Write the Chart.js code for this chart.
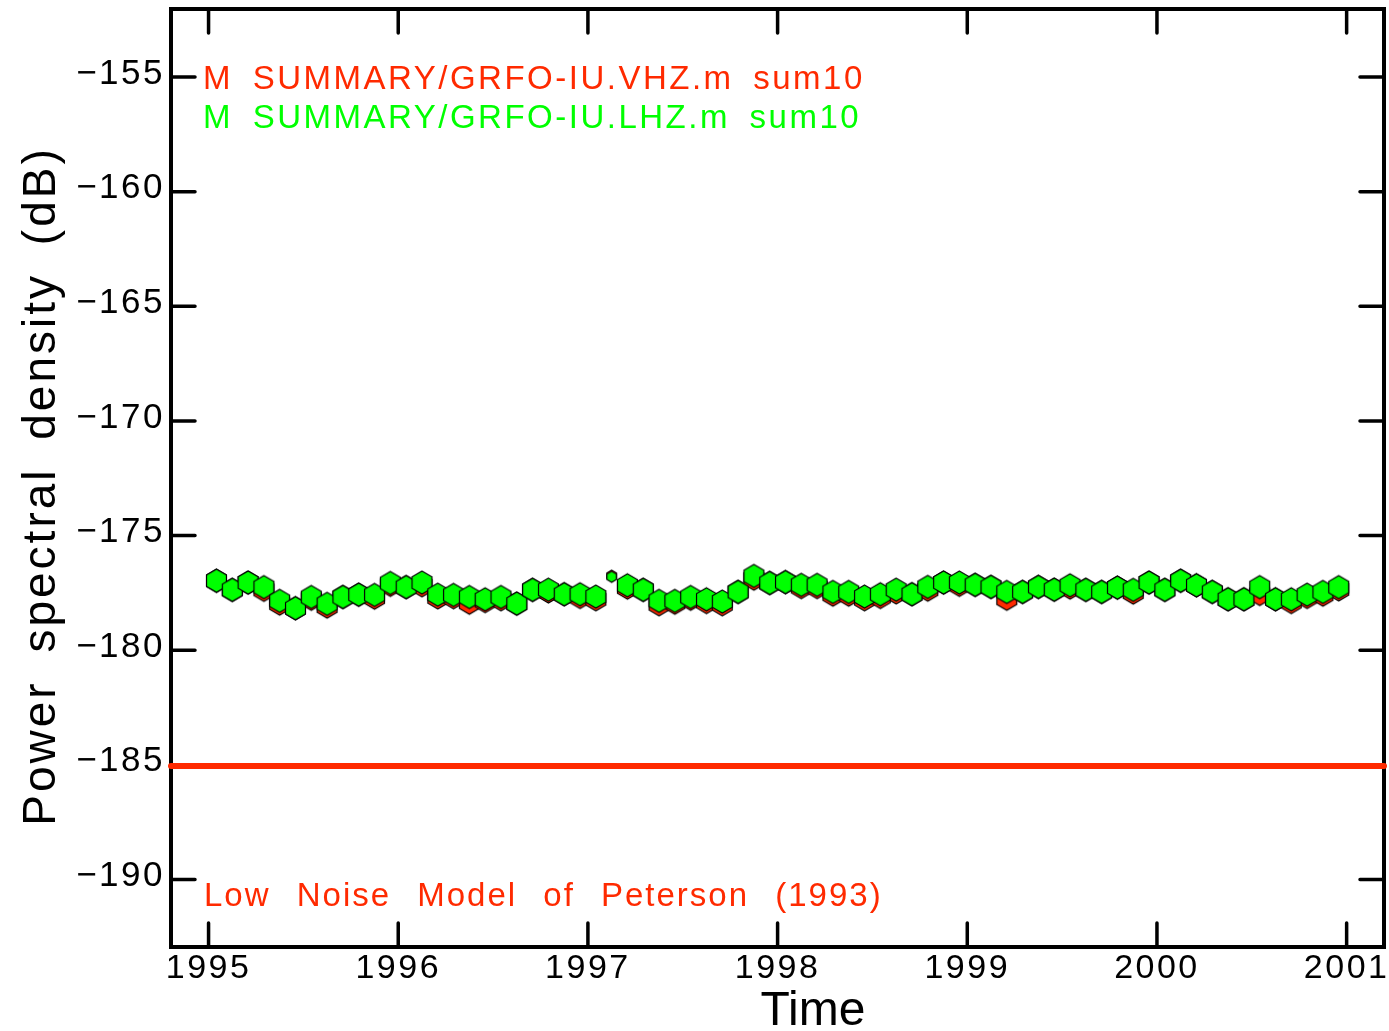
<!DOCTYPE html>
<html><head><meta charset="utf-8">
<script src="https://cdn.jsdelivr.net/npm/chart.js@4"></script>
<style>html,body{margin:0;padding:0;background:#fff}canvas{display:block}</style>
</head><body>
<canvas id="c" width="1389" height="1031"></canvas>
<script>
// ---- data ----
const months = [
 '1995-01','1995-02','1995-03','1995-04','1995-05','1995-06','1995-07','1995-08','1995-09','1995-10','1995-11','1995-12',
 '1996-01','1996-02','1996-03','1996-04','1996-05','1996-06','1996-07','1996-08','1996-09','1996-10','1996-11','1996-12',
 '1997-01','1997-02','1997-03','1997-04','1997-05','1997-06','1997-07','1997-08','1997-09','1997-10','1997-11','1997-12',
 '1998-01','1998-02','1998-03','1998-04','1998-05','1998-06','1998-07','1998-08','1998-09','1998-10','1998-11','1998-12',
 '1999-01','1999-02','1999-03','1999-04','1999-05','1999-06','1999-07','1999-08','1999-09','1999-10','1999-11','1999-12',
 '2000-01','2000-02','2000-03','2000-04','2000-05','2000-06','2000-07','2000-08','2000-09','2000-10','2000-11','2000-12'
];
const greenLHZ = [
 -176.97,-177.37,-177.05,-177.25,-177.85,-178.17,-177.68,-177.98,-177.68,-177.58,-177.59,-177.07,
 -177.25,-177.05,-177.58,-177.59,-177.68,-177.78,-177.68,-177.97,-177.37,-177.36,-177.56,-177.56,
 -177.66,-176.80,-177.17,-177.37,-177.85,-177.85,-177.68,-177.78,-177.88,-177.46,-176.76,-177.07,
 -177.03,-177.15,-177.15,-177.46,-177.46,-177.66,-177.56,-177.36,-177.56,-177.24,-177.05,-177.05,
 -177.15,-177.24,-177.46,-177.46,-177.24,-177.36,-177.17,-177.37,-177.46,-177.27,-177.37,-177.05,
 -177.37,-176.97,-177.17,-177.46,-177.78,-177.78,-177.25,-177.78,-177.78,-177.58,-177.46,-177.25
];
const redVHZ = [
 -176.97,-177.37,-177.05,-177.37,-177.97,-178.17,-177.76,-178.10,-177.68,-177.58,-177.71,-177.15,
 -177.25,-177.17,-177.70,-177.69,-177.93,-177.86,-177.78,-177.97,-177.37,-177.44,-177.56,-177.68,
 -177.78,-176.75,-177.27,-177.37,-178.00,-177.93,-177.76,-177.90,-178.00,-177.46,-176.88,-177.07,
 -177.03,-177.25,-177.25,-177.58,-177.58,-177.78,-177.68,-177.48,-177.56,-177.36,-177.05,-177.15,
 -177.15,-177.24,-177.76,-177.46,-177.24,-177.36,-177.27,-177.37,-177.46,-177.27,-177.49,-177.05,
 -177.37,-176.97,-177.17,-177.46,-177.78,-177.78,-177.55,-177.78,-177.90,-177.68,-177.58,-177.35
];
const partialMonths = ['1997-02'];
const nlnmLevel = [-185.05, -185.05];
const xTickYears = [1995, 1996, 1997, 1998, 1999, 2000, 2001];
const yTickValues = [-190, -185, -180, -175, -170, -165, -160, -155];
const legendLabels = ['M SUMMARY/GRFO-IU.VHZ.m sum10', 'M SUMMARY/GRFO-IU.LHZ.m sum10'];
const modelLabel = 'Low Noise Model of Peterson (1993)';
const xTitle = 'Time';
const yTitle = 'Power spectral density (dB)';

// ---- axis bounds ----
const X_MIN = 1994.802, X_MAX = 2001.197;
const Y_MIN = -192.95, Y_MAX = -152.03;

const RED = '#ff2a00', GREEN = '#00ff00', FONT = '"Liberation Sans", Arial, sans-serif';

function decYear(m) { const p = m.split('-').map(Number); return p[0] + (p[1] - 0.5) / 12; }

function makeHex(R, fill) {
  const s = Math.ceil(2 * R + 4);
  const cv = document.createElement('canvas');
  cv.width = s; cv.height = s;
  const c = cv.getContext('2d');
  c.translate(s / 2, s / 2);
  c.beginPath();
  for (let k = 0; k < 6; k++) {
    const a = -Math.PI / 2 + k * Math.PI / 3;
    const px = R * Math.cos(a), py = R * Math.sin(a);
    if (k === 0) c.moveTo(px, py); else c.lineTo(px, py);
  }
  c.closePath();
  c.fillStyle = fill; c.fill();
  c.lineWidth = 1.2; c.strokeStyle = '#000'; c.stroke();
  return cv;
}
const hexGreen = makeHex(11.5, GREEN), hexGreenSmall = makeHex(5.5, GREEN);
const hexRed = makeHex(11.5, RED), hexRedSmall = makeHex(5.5, RED);

function styleFor(big, small) {
  return ctx => partialMonths.includes(months[ctx.dataIndex]) ? small : big;
}

function drawText(ctx, txt, x, y, o) {
  ctx.save();
  ctx.font = o.size + 'px ' + FONT;
  ctx.fillStyle = o.color;
  ctx.letterSpacing = (o.ls || 0) + 'px';
  ctx.wordSpacing = (o.ws || 0) + 'px';
  ctx.textAlign = o.align || 'left';
  ctx.textBaseline = 'alphabetic';
  ctx.translate(x, y);
  if (o.rot) ctx.rotate(o.rot);
  ctx.fillText(txt, 0, 0);
  ctx.restore();
}

function noPad(s) { s.paddingLeft = 0; s.paddingRight = 0; s.paddingTop = 0; s.paddingBottom = 0; }

const framePlugin = {
  id: 'frame',
  beforeDraw(chart) { chart.ctx.letterSpacing = '2.5px'; },
  beforeDatasetsDraw(chart) {
    const { ctx, chartArea: a, scales } = chart;
    ctx.save();
    ctx.strokeStyle = '#000';
    ctx.lineWidth = 4;
    ctx.strokeRect(a.left, a.top, a.right - a.left, a.bottom - a.top);
    ctx.lineWidth = 3.5; ctx.lineCap = 'round';
    const L = 24;
    ctx.beginPath();
    scales.x.ticks.forEach(t => {
      const px = scales.x.getPixelForValue(t.value);
      ctx.moveTo(px, a.bottom); ctx.lineTo(px, a.bottom - L);
      ctx.moveTo(px, a.top); ctx.lineTo(px, a.top + L);
    });
    scales.y.ticks.forEach(t => {
      const py = scales.y.getPixelForValue(t.value);
      ctx.moveTo(a.left, py); ctx.lineTo(a.left + L, py);
      ctx.moveTo(a.right, py); ctx.lineTo(a.right - L, py);
    });
    ctx.stroke();
    ctx.restore();
  },
  afterDraw(chart) {
    const ctx = chart.ctx;
    drawText(ctx, legendLabels[0], 203, 89, { size: 33, color: RED, ls: 2.5, ws: 8 });
    drawText(ctx, legendLabels[1], 203, 128, { size: 33, color: GREEN, ls: 2.5, ws: 8 });
    drawText(ctx, modelLabel, 204, 906, { size: 33, color: RED, ls: 2, ws: 15 });
    drawText(ctx, xTitle, 813, 1025, { size: 48, color: '#000', align: 'center' });
    drawText(ctx, yTitle, 55, 486, { size: 46, color: '#000', align: 'center', ls: 3, ws: 12, rot: -Math.PI / 2 });
  }
};

new Chart(document.getElementById('c'), {
  type: 'scatter',
  data: {
    datasets: [
      {
        label: legendLabels[1],
        data: months.map((m, i) => ({ x: decYear(m), y: greenLHZ[i] })),
        pointStyle: styleFor(hexGreen, hexGreenSmall),
        pointRadius: 12, showLine: false
      },
      {
        label: legendLabels[0],
        data: months.map((m, i) => ({ x: decYear(m), y: redVHZ[i] })),
        pointStyle: styleFor(hexRed, hexRedSmall),
        pointRadius: 12, showLine: false
      },
      {
        label: modelLabel,
        data: [{ x: X_MIN, y: nlnmLevel[0] }, { x: X_MAX, y: nlnmLevel[1] }],
        showLine: true, pointRadius: 0, borderColor: RED, borderWidth: 6,
        borderCapStyle: 'round', clip: false
      }
    ]
  },
  options: {
    responsive: false, animation: false, events: [],
    layout: { autoPadding: false, padding: { left: 0, right: 5, top: 9, bottom: 0 } },
    plugins: { legend: { display: false }, tooltip: { enabled: false } },
    scales: {
      x: {
        type: 'linear', min: X_MIN, max: X_MAX,
        afterBuildTicks: s => { s.ticks = xTickYears.map(v => ({ value: v })); },
        afterFit: s => { s.height = 84; noPad(s); },
        grid: { display: false, drawTicks: false }, border: { display: false },
        ticks: { autoSkip: false, maxRotation: 0, padding: 1, color: '#000',
          font: { family: FONT, size: 34 }, callback: v => String(v) }
      },
      y: {
        type: 'linear', min: Y_MIN, max: Y_MAX,
        afterBuildTicks: s => { s.ticks = yTickValues.map(v => ({ value: v })); },
        afterFit: s => { s.width = 171; noPad(s); },
        grid: { display: false, drawTicks: false }, border: { display: false },
        ticks: { autoSkip: false, padding: 6, labelOffset: -3, color: '#000',
          font: { family: FONT, size: 35 }, callback: v => '\u2212' + Math.abs(v) }
      }
    }
  },
  plugins: [framePlugin]
});
</script>
</body></html>
